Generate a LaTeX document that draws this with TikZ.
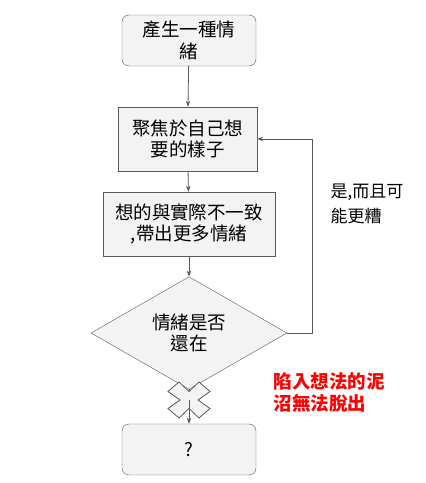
\documentclass[tikz,border=0pt]{standalone}
\usepackage{fontspec}
\usepackage{tikz}
\usetikzlibrary{shapes.geometric,arrows.meta}
\setmainfont{Noto Sans CJK TC}
\definecolor{boxgrey}{HTML}{F3F3F3}
\definecolor{linegrey}{HTML}{595959}
\definecolor{notered}{HTML}{FF0000}

\begin{document}
\begin{tikzpicture}[x=1pt,y=1pt,
  every node/.style={font=\fontsize{18.5}{21.5}\selectfont, align=center},
  stepbox/.style={draw=linegrey, fill=boxgrey, rectangle, inner sep=0pt},
  roundbox/.style={stepbox, rounded corners=7pt},
  flow/.style={draw=linegrey, line width=0.8pt, -{Stealth[length=6pt,width=4.5pt]}}]
\useasboundingbox (0,0) rectangle (426,483);
\node[roundbox, minimum width=134pt, minimum height=51pt] (start) at (189,442.5) {產生一種情\\緒};
\node[stepbox, minimum width=139pt, minimum height=64pt] (focus) at (187.5,344) {聚焦於自己想\\要的樣子};
\node[stepbox, minimum width=172pt, minimum height=64pt] (gap) at (189,259) {想的與實際不一致\\,帶出更多情緒};
\node[stepbox, diamond, minimum width=196pt, minimum height=92pt] (still) at (189,150) {情緒是否\\還在};
\node[roundbox, minimum width=134pt, minimum height=51pt] (unknown) at (189,33.5) {?};
\coordinate (cross) at (189,83);
\coordinate (loop) at (312,0);

\draw[flow] (start)--(focus);
\draw[flow] (focus)--(gap);
\draw[flow] (gap)--(still);
\draw[flow] (still.east)-|(loop|-focus.east)--(focus.east);
\node[anchor=west, font=\fontsize{17}{25}\selectfont, align=left] (worse) at (327,279) {是,而且可\\能更糟};

% the way out is crossed out
\draw[draw=linegrey, line width=0.8pt] (still.south)--(cross);
\draw[draw=linegrey, fill=boxgrey, line width=0.8pt, shift={(cross)}]
  (0,8.5)--(10,18)--(21,8.5)--(9,0)--(21,-8.5)--(10,-18)--(0,-8.5)
  --(-10,-18)--(-21,-8.5)--(-9,0)--(-21,8.5)--(-10,18)--cycle;
\draw[flow] (cross)--(unknown);
\node[anchor=west, text=notered, font=\fontsize{18.5}{22}\selectfont\bfseries, align=left] (stuck) at (270,91) {陷入想法的泥\\沼無法脫出};
\end{tikzpicture}
\end{document}
